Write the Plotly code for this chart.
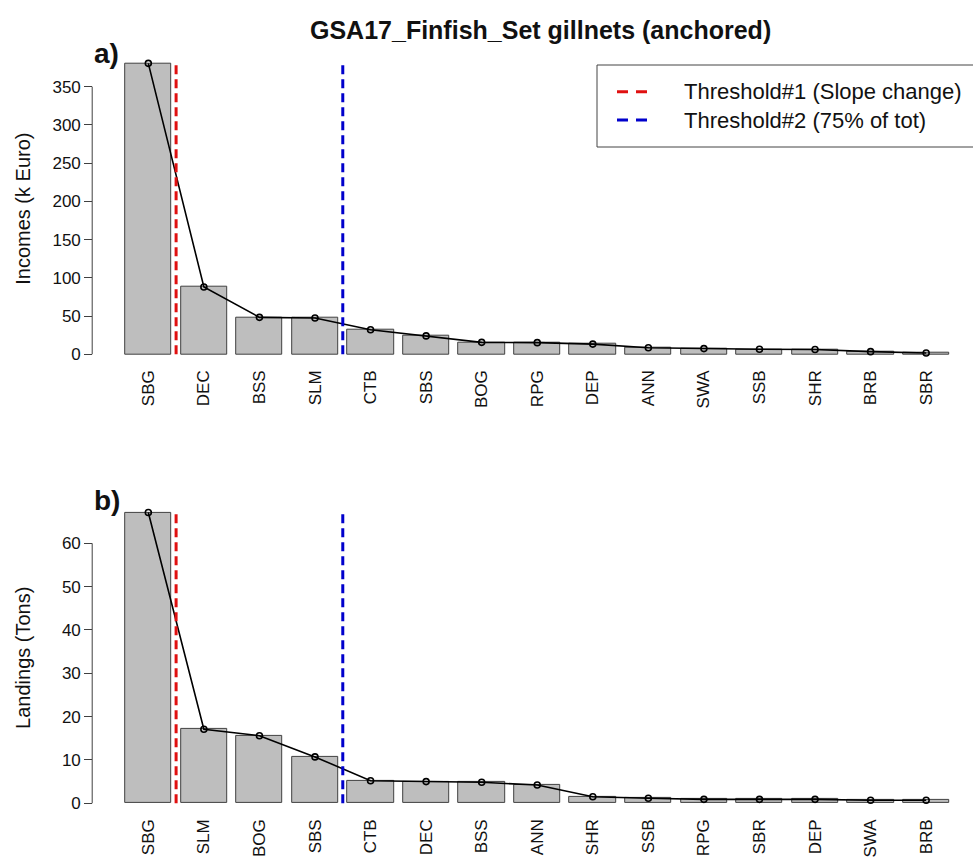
import plotly.graph_objects as go

W, H = 973, 859

title = "GSA17_Finfish_Set gillnets (anchored)"

species_a = ["SBG", "DEC", "BSS", "SLM", "CTB", "SBS", "BOG", "RPG", "DEP", "ANN", "SWA", "SSB", "SHR", "BRB", "SBR"]
incomes = [380.5, 88.0, 48.3, 47.5, 32.0, 24.0, 15.6, 15.2, 13.3, 8.6, 7.4, 6.5, 6.2, 3.4, 1.7]

species_b = ["SBG", "SLM", "BOG", "SBS", "CTB", "DEC", "BSS", "ANN", "SHR", "SSB", "RPG", "SBR", "DEP", "SWA", "BRB"]
landings = [67.1, 17.1, 15.6, 10.7, 5.2, 5.0, 4.85, 4.2, 1.5, 1.15, 0.9, 0.9, 0.9, 0.7, 0.7]

threshold1 = 1.3   # between bar 1 and bar 2 (R barplot coordinates)
threshold2 = 4.9   # between bar 4 and bar 5

legend_labels = ["Threshold#1 (Slope change)", "Threshold#2 (75% of tot)"]

RED = "#E01010"
BLUE = "#0000CC"
BAR = "#BEBEBE"
EDGE = "#404040"
FONT = "Liberation Sans, Arial, sans-serif"

# R barplot positions: width 1, space 0.2
xa = [0.7 + 1.2 * i for i in range(len(species_a))]
xb = [0.7 + 1.2 * i for i in range(len(species_b))]

x_left_px, x_right_px = 92.2, 973.0
unit_px = 46.3
xr = [-0.512, -0.512 + (x_right_px - x_left_px) / unit_px]

def ext(vmax):
    return [-0.04 * vmax, vmax * 1.04]

ya_rng = ext(max(incomes))
yb_rng = ext(max(landings))

pa = (51.7, 365.9)
pb = (500.9, 814.9)

fig = go.Figure()

line_style = dict(color="black", width=1.6)
marker_style = dict(symbol="circle-open", size=6, color="black", line=dict(width=1.6))

fig.add_trace(go.Bar(x=xa, y=incomes, width=1.0, marker=dict(color=BAR, line=dict(color=EDGE, width=1)),
                     xaxis="x", yaxis="y", showlegend=False, hoverinfo="y"))
fig.add_trace(go.Scatter(x=xa, y=incomes, mode="lines+markers", line=line_style, marker=marker_style,
                         xaxis="x", yaxis="y", showlegend=False))
fig.add_trace(go.Bar(x=xb, y=landings, width=1.0, marker=dict(color=BAR, line=dict(color=EDGE, width=1)),
                     xaxis="x2", yaxis="y2", showlegend=False, hoverinfo="y"))
fig.add_trace(go.Scatter(x=xb, y=landings, mode="lines+markers", line=line_style, marker=marker_style,
                         xaxis="x2", yaxis="y2", showlegend=False))

xdom = [x_left_px / W, 1.0]

def ydom(p):
    return [1 - p[1] / H, 1 - p[0] / H]

xaxis_common = dict(range=xr, domain=xdom, showgrid=False, zeroline=False, showline=False,
                    ticks="", tickangle=-90, tickfont=dict(family=FONT, size=17, color="#111"))
yaxis_common = dict(showgrid=False, zeroline=False, showline=False, ticks="outside", ticklen=8,
                    tickcolor=EDGE, tickwidth=1, tickfont=dict(family=FONT, size=17, color="#111"),
                    anchor="free", position=xdom[0])

fig.update_layout(
    width=W, height=H, margin=dict(l=0, r=0, t=0, b=0),
    plot_bgcolor="white", paper_bgcolor="white", bargap=0,
    xaxis=dict(xaxis_common, anchor="y", tickmode="array", tickvals=xa, ticktext=species_a),
    yaxis=dict(yaxis_common, range=ya_rng, domain=ydom(pa), dtick=50, tick0=0),
    xaxis2=dict(xaxis_common, anchor="y2", tickmode="array", tickvals=xb, ticktext=species_b),
    yaxis2=dict(yaxis_common, range=yb_rng, domain=ydom(pb), dtick=10, tick0=0),
)

shapes = []
# R-style y axis lines spanning only the tick range
shapes.append(dict(type="line", xref="paper", yref="y", x0=xdom[0], x1=xdom[0], y0=0, y1=350,
                   line=dict(color=EDGE, width=1)))
shapes.append(dict(type="line", xref="paper", yref="y2", x0=xdom[0], x1=xdom[0], y0=0, y1=60,
                   line=dict(color=EDGE, width=1)))
# Threshold lines
for xref, yref, vmax in (("x", "y", max(incomes)), ("x2", "y2", max(landings))):
    shapes.append(dict(type="line", xref=xref, yref=yref, x0=threshold1, x1=threshold1, y0=0, y1=vmax,
                       line=dict(color=RED, width=3, dash="9px,5px")))
    shapes.append(dict(type="line", xref=xref, yref=yref, x0=threshold2, x1=threshold2, y0=0, y1=vmax,
                       line=dict(color=BLUE, width=3, dash="9px,5px")))

def px(x):
    return x / W

def py(y):
    return 1 - y / H

# Legend box
shapes.append(dict(type="rect", xref="paper", yref="paper", x0=px(597), x1=px(985), y0=py(147), y1=py(65),
                   line=dict(color="#444", width=1), fillcolor="white"))
for i, col in enumerate([RED, BLUE]):
    yy = 91.7 + 28.3 * i
    shapes.append(dict(type="line", xref="paper", yref="paper", x0=px(617), x1=px(651), y0=py(yy), y1=py(yy),
                       line=dict(color=col, width=3, dash="11px,8px")))
fig.update_layout(shapes=shapes)

annotations = []
for i, lab in enumerate(legend_labels):
    yy = 91.7 + 28.3 * i
    annotations.append(dict(xref="paper", yref="paper", x=px(682), y=py(yy), text=lab, showarrow=False,
                            xanchor="left", yanchor="middle", font=dict(family=FONT, size=22, color="#111")))
annotations.append(dict(xref="paper", yref="paper", x=px(540), y=py(30), text="<b>" + title + "</b>",
                        showarrow=False, xanchor="center", yanchor="middle",
                        font=dict(family=FONT, size=25, color="#111")))
annotations.append(dict(xref="paper", yref="paper", x=px(92), y=py(54), text="<b>a)</b>", showarrow=False,
                        xanchor="left", yanchor="middle", font=dict(family=FONT, size=28, color="#111")))
annotations.append(dict(xref="paper", yref="paper", x=px(92), y=py(500), text="<b>b)</b>", showarrow=False,
                        xanchor="left", yanchor="middle", font=dict(family=FONT, size=28, color="#111")))
annotations.append(dict(xref="paper", yref="paper", x=px(23), y=py((pa[0] + pa[1]) / 2), text="Incomes (k Euro)",
                        textangle=-90, showarrow=False, xanchor="center", yanchor="middle",
                        font=dict(family=FONT, size=20, color="#111")))
annotations.append(dict(xref="paper", yref="paper", x=px(23), y=py((pb[0] + pb[1]) / 2), text="Landings (Tons)",
                        textangle=-90, showarrow=False, xanchor="center", yanchor="middle",
                        font=dict(family=FONT, size=20, color="#111")))
fig.update_layout(annotations=annotations)

fig.write_html("out.html")
